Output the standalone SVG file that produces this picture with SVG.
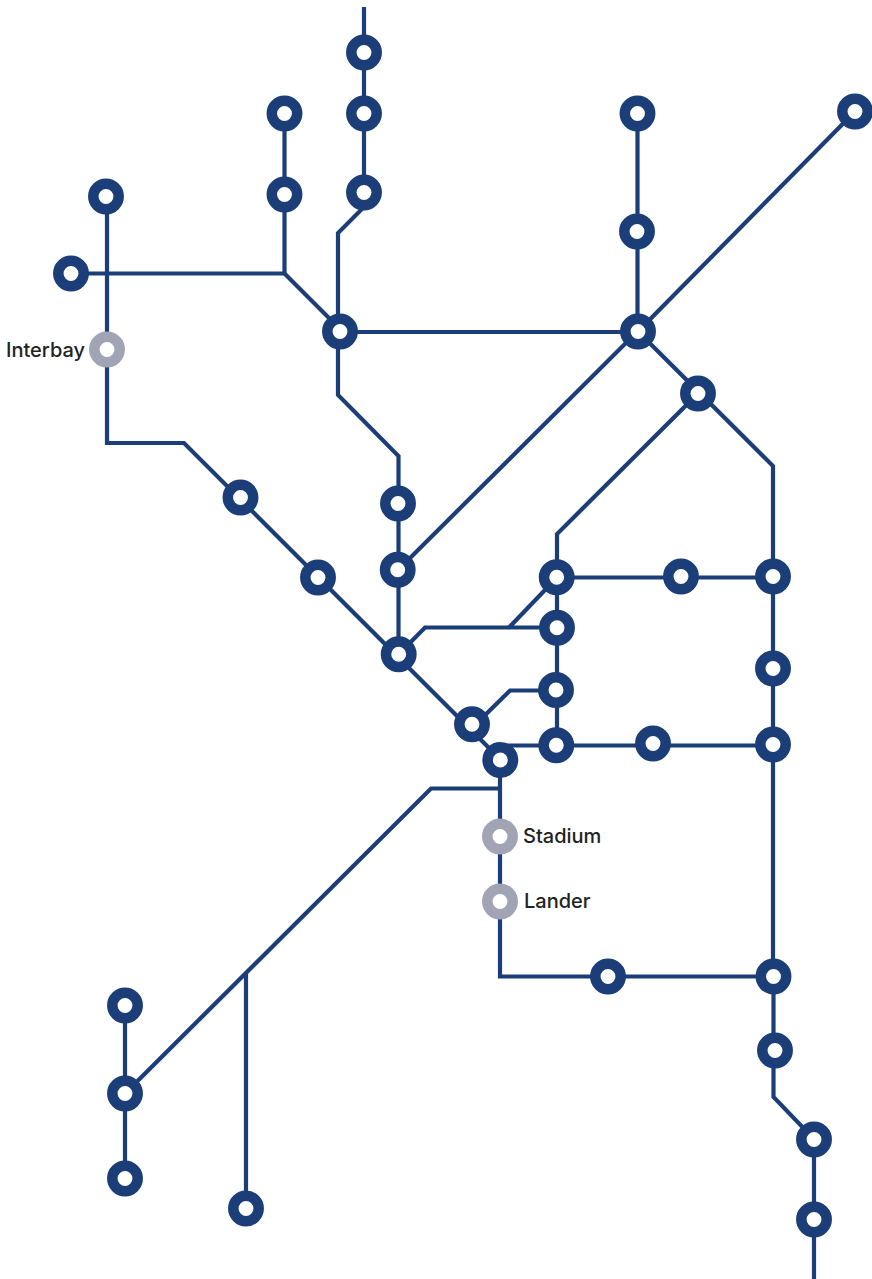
<svg xmlns="http://www.w3.org/2000/svg" width="872" height="1279" viewBox="0 0 872 1279">
<style>
.l{fill:none;stroke:#1b3e78;stroke-width:4.2;stroke-linejoin:miter}
.s{fill:#fff;stroke:#1b3e78;stroke-width:10.5}
.g{fill:#fff;stroke:#a0a4b5;stroke-width:10.5}
text{font-family:"Inter","Liberation Sans",Arial,sans-serif;font-size:20px;font-weight:500;fill:#222}
</style>
<rect width="872" height="1279" fill="#fff"/>
<g id="connectors">
<path class="l" d="M364 7V207L338 233V395L398.500 456V654"/>
<path class="l" d="M284.500 113V273.500H71"/>
<path class="l" d="M284.500 273.500L340 329V332H638"/>
<path class="l" d="M107 196V443H184L396 655L500 759"/>
<path class="l" d="M637.500 113V331.500L398 570"/>
<path class="l" d="M855 111.500L638 331.500L773 466V976"/>
<path class="l" d="M698 393.500L557 534V745"/>
<path class="l" d="M557 577.500H773"/>
<path class="l" d="M557 577.500L509 627.500"/>
<path class="l" d="M399 654L425 627.500H557"/>
<path class="l" d="M476 724L510 690.500H556"/>
<path class="l" d="M500 745.500H773"/>
<path class="l" d="M500 760V976.500H773"/>
<path class="l" d="M500 788.500H431L125 1093.500"/>
<path class="l" d="M246 973V1208"/>
<path class="l" d="M125 1005V1178"/>
<path class="l" d="M773.500 976V1097L814 1139V1279"/>
</g>
<g id="st1"><circle class="s" cx="364" cy="52.500" r="12.7"/></g>
<g id="st2"><circle class="s" cx="284.500" cy="113.500" r="12.7"/></g>
<g id="st3"><circle class="s" cx="364" cy="113.500" r="12.7"/></g>
<g id="st4"><circle class="s" cx="637.500" cy="113.500" r="12.7"/></g>
<g id="st5"><circle class="s" cx="855" cy="111.500" r="12.7"/></g>
<g id="st6"><circle class="s" cx="106" cy="196.500" r="12.7"/></g>
<g id="st7"><circle class="s" cx="284.500" cy="194.500" r="12.7"/></g>
<g id="st8"><circle class="s" cx="364" cy="192.500" r="12.7"/></g>
<g id="st9"><circle class="s" cx="637" cy="231.500" r="12.7"/></g>
<g id="st10"><circle class="s" cx="71" cy="273.500" r="12.7"/></g>
<g id="st11"><circle class="s" cx="340" cy="331.500" r="12.7"/></g>
<g id="st12"><circle class="s" cx="638" cy="331.500" r="12.7"/></g>
<g id="st-interbay"><circle class="g" cx="107" cy="349.500" r="12.7"/><text x="6" y="356.500">Interbay</text></g>
<g id="st13"><circle class="s" cx="698" cy="393.500" r="12.7"/></g>
<g id="st14"><circle class="s" cx="240.500" cy="497.500" r="12.7"/></g>
<g id="st15"><circle class="s" cx="398" cy="503.500" r="12.7"/></g>
<g id="st16"><circle class="s" cx="397.700" cy="569.800" r="12.7"/></g>
<g id="st17"><circle class="s" cx="318" cy="577.500" r="12.7"/></g>
<g id="st18"><circle class="s" cx="556.700" cy="577.300" r="12.7"/></g>
<g id="st19"><circle class="s" cx="681" cy="576.500" r="12.7"/></g>
<g id="st20"><circle class="s" cx="773" cy="576.500" r="12.7"/></g>
<g id="st21"><circle class="s" cx="557" cy="627.700" r="12.7"/></g>
<g id="st22"><circle class="s" cx="398.700" cy="654.300" r="12.7"/></g>
<g id="st23"><circle class="s" cx="773" cy="668.500" r="12.7"/></g>
<g id="st24"><circle class="s" cx="556" cy="690" r="12.7"/></g>
<g id="st25"><circle class="s" cx="472" cy="724.300" r="12.7"/></g>
<g id="st26"><circle class="s" cx="556.300" cy="745.300" r="12.7"/></g>
<g id="st27"><circle class="s" cx="653" cy="743.500" r="12.7"/></g>
<g id="st28"><circle class="s" cx="773" cy="744.500" r="12.7"/></g>
<g id="st29"><circle class="s" cx="500.300" cy="760" r="12.7"/></g>
<g id="st-stadium"><circle class="g" cx="500" cy="836.500" r="12.7"/><text x="523" y="843">Stadium</text></g>
<g id="st-lander"><circle class="g" cx="500" cy="901.500" r="12.7"/><text x="524" y="908">Lander</text></g>
<g id="st30"><circle class="s" cx="608" cy="976.500" r="12.7"/></g>
<g id="st31"><circle class="s" cx="773.500" cy="976.500" r="12.7"/></g>
<g id="st32"><circle class="s" cx="125" cy="1005.500" r="12.7"/></g>
<g id="st33"><circle class="s" cx="775" cy="1050.500" r="12.7"/></g>
<g id="st34"><circle class="s" cx="125" cy="1093.500" r="12.7"/></g>
<g id="st35"><circle class="s" cx="814" cy="1139.500" r="12.7"/></g>
<g id="st36"><circle class="s" cx="125" cy="1178.500" r="12.7"/></g>
<g id="st37"><circle class="s" cx="246" cy="1208.500" r="12.7"/></g>
<g id="st38"><circle class="s" cx="814" cy="1219.500" r="12.7"/></g>
</svg>
